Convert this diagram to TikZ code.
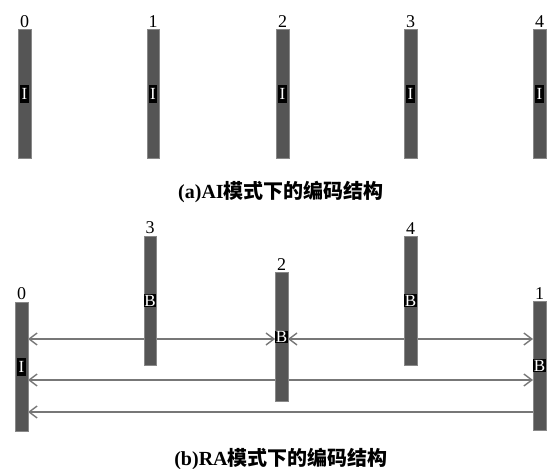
\documentclass[tikz,border=0pt]{standalone}
\usepackage{fontspec}
\setmainfont{Liberation Serif}
\newfontfamily\cjk{Noto Sans CJK SC}
\usetikzlibrary{arrows.meta,backgrounds}
\definecolor{barc}{HTML}{555555}
\definecolor{arrc}{HTML}{777777}
\tikzset{
  bar/.style={rectangle, fill=barc, draw=barc!70!white, line width=0.4pt, minimum width=12.5pt, minimum height=129pt, inner sep=0pt},
  lab/.style={fill=black, text=white, inner sep=0.5pt, font=\fontsize{17}{17}\selectfont},
  ilab/.style={lab, inner xsep=1.2pt, minimum height=18pt},
  num/.style={anchor=south, inner sep=1.5pt, font=\fontsize{18}{18}\selectfont},
  conn/.style={draw=arrc, line width=1.4pt, arrows={Straight Barb[length=8pt,width=12pt]-Straight Barb[length=8pt,width=12pt]}},
  connl/.style={draw=arrc, line width=1.4pt, arrows={Straight Barb[length=8pt,width=12pt]-}},
  captext/.style={font=\fontsize{20}{20}\selectfont\bfseries}
}
\begin{document}
\begin{tikzpicture}[x=1pt,y=-1pt]
\useasboundingbox (0,0) rectangle (547,469);
% (a) AI
\foreach \i/\x in {0/24.5,1/153,2/282.5,3/410.5,4/539.5}{
  \node[bar] (a\i) at (\x,94) {};
  \node[num] (an\i) at (a\i.north) {\i};
  \node[ilab] (aI\i) at (a\i.center) {I};
}
\node[captext] (capa) at (281,192) {(a)AI{\cjk\bfseries 模式下的编码结构}};
% (b) RA
\node[bar] (b0) at (21.5,366.5) {};
\node[bar] (b3) at (150,300.5) {};
\node[bar] (b2) at (281.5,337) {};
\node[bar] (b4) at (410.5,300.5) {};
\node[bar] (b1) at (539.5,365.5) {};
\foreach \i in {0,1,2,3,4}{\node[num] (bn\i) at (b\i.north) {\i};}
\node[ilab] (L0) at (b0.center) {I};
\node[lab] (L3) at (b3.center) {B};
\node[lab] (L2) at (b2.center) {B};
\node[lab] (L4) at (b4.center) {B};
\node[lab] (L1) at (b1.center) {B};
\coordinate (r1) at (0,339);
\coordinate (r2) at (0,380);
\coordinate (r3) at (0,412);
\begin{scope}[on background layer]
  \draw[conn] (b0.east |- r1) -- (L2.west |- r1);
  \draw[conn] (L2.east |- r1) -- (b1.west |- r1);
  \draw[conn] (b0.east |- r2) -- (b1.west |- r2);
  \draw[connl] (b0.east |- r3) -- (b1.west |- r3);
\end{scope}
\node[captext] (capb) at (281,459) {(b)RA{\cjk\bfseries 模式下的编码结构}};
\end{tikzpicture}
\end{document}
